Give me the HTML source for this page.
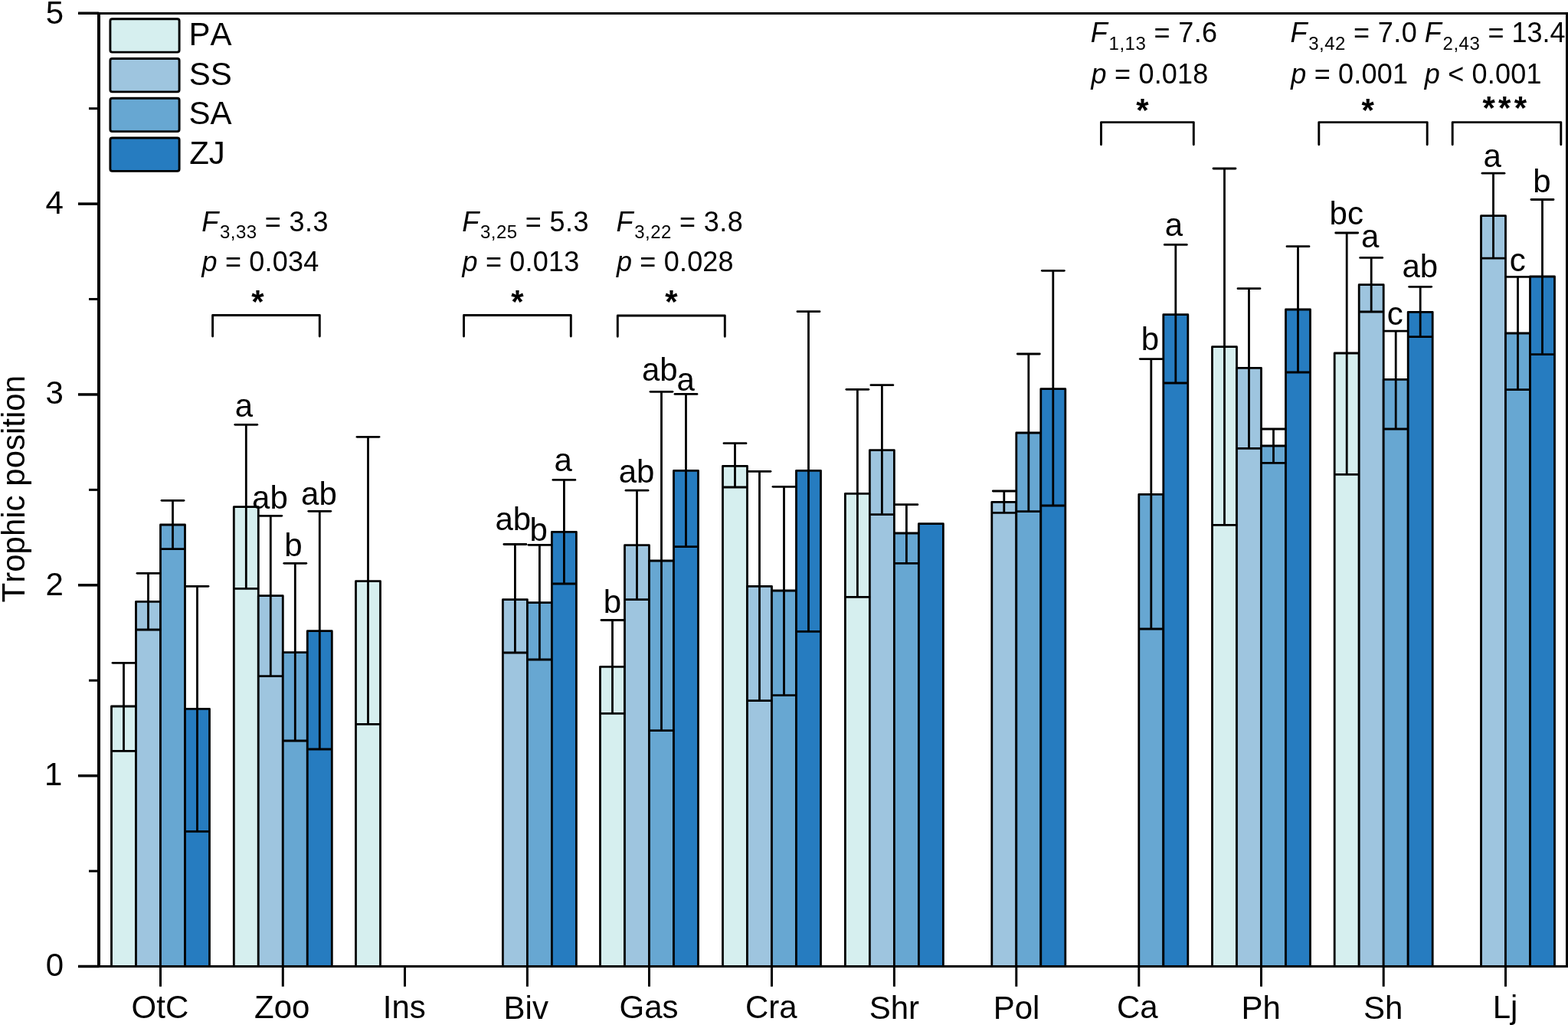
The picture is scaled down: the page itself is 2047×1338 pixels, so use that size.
<!DOCTYPE html>
<html><head><meta charset="utf-8"><title>Trophic position</title>
<style>
html,body{margin:0;padding:0;background:#fff;}
body{width:2047px;height:1338px;overflow:hidden;}
svg{display:block;font-family:"Liberation Sans", Arial, sans-serif;}
text{fill:#000;font-kerning:none;}
</style></head><body>
<svg width="2047" height="1338" viewBox="0 0 2047 1338">
<rect x="0" y="0" width="2047" height="1338" fill="#fff"/>
<rect x="145.50" y="922.00" width="32.00" height="339.50" fill="#d6efef" stroke="#000" stroke-width="2.8" stroke-linejoin="round"/>
<rect x="177.50" y="785.30" width="32.00" height="476.20" fill="#9ec5df" stroke="#000" stroke-width="2.8" stroke-linejoin="round"/>
<rect x="209.50" y="685.00" width="32.00" height="576.50" fill="#67a7d2" stroke="#000" stroke-width="2.8" stroke-linejoin="round"/>
<rect x="241.50" y="925.30" width="32.00" height="336.20" fill="#267cc0" stroke="#000" stroke-width="2.8" stroke-linejoin="round"/>
<rect x="305.30" y="661.70" width="32.00" height="599.80" fill="#d6efef" stroke="#000" stroke-width="2.8" stroke-linejoin="round"/>
<rect x="337.30" y="777.70" width="32.00" height="483.80" fill="#9ec5df" stroke="#000" stroke-width="2.8" stroke-linejoin="round"/>
<rect x="369.30" y="851.70" width="32.00" height="409.80" fill="#67a7d2" stroke="#000" stroke-width="2.8" stroke-linejoin="round"/>
<rect x="401.30" y="823.70" width="32.00" height="437.80" fill="#267cc0" stroke="#000" stroke-width="2.8" stroke-linejoin="round"/>
<rect x="464.50" y="758.70" width="32.00" height="502.80" fill="#d6efef" stroke="#000" stroke-width="2.8" stroke-linejoin="round"/>
<rect x="656.40" y="782.70" width="32.00" height="478.80" fill="#9ec5df" stroke="#000" stroke-width="2.8" stroke-linejoin="round"/>
<rect x="688.40" y="786.70" width="32.00" height="474.80" fill="#67a7d2" stroke="#000" stroke-width="2.8" stroke-linejoin="round"/>
<rect x="720.40" y="694.30" width="32.00" height="567.20" fill="#267cc0" stroke="#000" stroke-width="2.8" stroke-linejoin="round"/>
<rect x="783.50" y="870.30" width="32.00" height="391.20" fill="#d6efef" stroke="#000" stroke-width="2.8" stroke-linejoin="round"/>
<rect x="815.50" y="711.70" width="32.00" height="549.80" fill="#9ec5df" stroke="#000" stroke-width="2.8" stroke-linejoin="round"/>
<rect x="847.50" y="732.00" width="32.00" height="529.50" fill="#67a7d2" stroke="#000" stroke-width="2.8" stroke-linejoin="round"/>
<rect x="879.50" y="614.30" width="32.00" height="647.20" fill="#267cc0" stroke="#000" stroke-width="2.8" stroke-linejoin="round"/>
<rect x="943.50" y="608.30" width="32.00" height="653.20" fill="#d6efef" stroke="#000" stroke-width="2.8" stroke-linejoin="round"/>
<rect x="975.50" y="765.30" width="32.00" height="496.20" fill="#9ec5df" stroke="#000" stroke-width="2.8" stroke-linejoin="round"/>
<rect x="1007.50" y="771.00" width="32.00" height="490.50" fill="#67a7d2" stroke="#000" stroke-width="2.8" stroke-linejoin="round"/>
<rect x="1039.50" y="614.30" width="32.00" height="647.20" fill="#267cc0" stroke="#000" stroke-width="2.8" stroke-linejoin="round"/>
<rect x="1103.40" y="644.30" width="32.00" height="617.20" fill="#d6efef" stroke="#000" stroke-width="2.8" stroke-linejoin="round"/>
<rect x="1135.40" y="587.70" width="32.00" height="673.80" fill="#9ec5df" stroke="#000" stroke-width="2.8" stroke-linejoin="round"/>
<rect x="1167.40" y="696.00" width="32.00" height="565.50" fill="#67a7d2" stroke="#000" stroke-width="2.8" stroke-linejoin="round"/>
<rect x="1199.40" y="683.70" width="32.00" height="577.80" fill="#267cc0" stroke="#000" stroke-width="2.8" stroke-linejoin="round"/>
<rect x="1294.80" y="655.30" width="32.00" height="606.20" fill="#9ec5df" stroke="#000" stroke-width="2.8" stroke-linejoin="round"/>
<rect x="1326.80" y="565.00" width="32.00" height="696.50" fill="#67a7d2" stroke="#000" stroke-width="2.8" stroke-linejoin="round"/>
<rect x="1358.80" y="507.70" width="32.00" height="753.80" fill="#267cc0" stroke="#000" stroke-width="2.8" stroke-linejoin="round"/>
<rect x="1486.80" y="645.30" width="32.00" height="616.20" fill="#67a7d2" stroke="#000" stroke-width="2.8" stroke-linejoin="round"/>
<rect x="1518.80" y="410.70" width="32.00" height="850.80" fill="#267cc0" stroke="#000" stroke-width="2.8" stroke-linejoin="round"/>
<rect x="1582.50" y="452.70" width="32.00" height="808.80" fill="#d6efef" stroke="#000" stroke-width="2.8" stroke-linejoin="round"/>
<rect x="1614.50" y="480.30" width="32.00" height="781.20" fill="#9ec5df" stroke="#000" stroke-width="2.8" stroke-linejoin="round"/>
<rect x="1646.50" y="582.00" width="32.00" height="679.50" fill="#67a7d2" stroke="#000" stroke-width="2.8" stroke-linejoin="round"/>
<rect x="1678.50" y="404.00" width="32.00" height="857.50" fill="#267cc0" stroke="#000" stroke-width="2.8" stroke-linejoin="round"/>
<rect x="1742.20" y="461.00" width="32.00" height="800.50" fill="#d6efef" stroke="#000" stroke-width="2.8" stroke-linejoin="round"/>
<rect x="1774.20" y="371.70" width="32.00" height="889.80" fill="#9ec5df" stroke="#000" stroke-width="2.8" stroke-linejoin="round"/>
<rect x="1806.20" y="495.30" width="32.00" height="766.20" fill="#67a7d2" stroke="#000" stroke-width="2.8" stroke-linejoin="round"/>
<rect x="1838.20" y="407.30" width="32.00" height="854.20" fill="#267cc0" stroke="#000" stroke-width="2.8" stroke-linejoin="round"/>
<rect x="1933.50" y="281.70" width="32.00" height="979.80" fill="#9ec5df" stroke="#000" stroke-width="2.8" stroke-linejoin="round"/>
<rect x="1965.50" y="435.00" width="32.00" height="826.50" fill="#67a7d2" stroke="#000" stroke-width="2.8" stroke-linejoin="round"/>
<rect x="1997.50" y="361.00" width="32.00" height="900.50" fill="#267cc0" stroke="#000" stroke-width="2.8" stroke-linejoin="round"/>
<line x1="161.50" y1="865.30" x2="161.50" y2="980.30" stroke="#000" stroke-width="2.8"/>
<line x1="147.00" y1="865.30" x2="176.00" y2="865.30" stroke="#000" stroke-width="2.8" stroke-linecap="round"/>
<line x1="147.00" y1="980.30" x2="176.00" y2="980.30" stroke="#000" stroke-width="2.8" stroke-linecap="round"/>
<line x1="193.50" y1="748.30" x2="193.50" y2="822.00" stroke="#000" stroke-width="2.8"/>
<line x1="179.00" y1="748.30" x2="208.00" y2="748.30" stroke="#000" stroke-width="2.8" stroke-linecap="round"/>
<line x1="179.00" y1="822.00" x2="208.00" y2="822.00" stroke="#000" stroke-width="2.8" stroke-linecap="round"/>
<line x1="225.50" y1="653.30" x2="225.50" y2="716.70" stroke="#000" stroke-width="2.8"/>
<line x1="211.00" y1="653.30" x2="240.00" y2="653.30" stroke="#000" stroke-width="2.8" stroke-linecap="round"/>
<line x1="211.00" y1="716.70" x2="240.00" y2="716.70" stroke="#000" stroke-width="2.8" stroke-linecap="round"/>
<line x1="257.50" y1="765.30" x2="257.50" y2="1085.30" stroke="#000" stroke-width="2.8"/>
<line x1="243.00" y1="765.30" x2="272.00" y2="765.30" stroke="#000" stroke-width="2.8" stroke-linecap="round"/>
<line x1="243.00" y1="1085.30" x2="272.00" y2="1085.30" stroke="#000" stroke-width="2.8" stroke-linecap="round"/>
<line x1="321.30" y1="554.30" x2="321.30" y2="768.30" stroke="#000" stroke-width="2.8"/>
<line x1="306.80" y1="554.30" x2="335.80" y2="554.30" stroke="#000" stroke-width="2.8" stroke-linecap="round"/>
<line x1="306.80" y1="768.30" x2="335.80" y2="768.30" stroke="#000" stroke-width="2.8" stroke-linecap="round"/>
<line x1="353.30" y1="673.30" x2="353.30" y2="882.70" stroke="#000" stroke-width="2.8"/>
<line x1="338.80" y1="673.30" x2="367.80" y2="673.30" stroke="#000" stroke-width="2.8" stroke-linecap="round"/>
<line x1="338.80" y1="882.70" x2="367.80" y2="882.70" stroke="#000" stroke-width="2.8" stroke-linecap="round"/>
<line x1="385.30" y1="735.30" x2="385.30" y2="967.00" stroke="#000" stroke-width="2.8"/>
<line x1="370.80" y1="735.30" x2="399.80" y2="735.30" stroke="#000" stroke-width="2.8" stroke-linecap="round"/>
<line x1="370.80" y1="967.00" x2="399.80" y2="967.00" stroke="#000" stroke-width="2.8" stroke-linecap="round"/>
<line x1="417.30" y1="667.30" x2="417.30" y2="978.00" stroke="#000" stroke-width="2.8"/>
<line x1="402.80" y1="667.30" x2="431.80" y2="667.30" stroke="#000" stroke-width="2.8" stroke-linecap="round"/>
<line x1="402.80" y1="978.00" x2="431.80" y2="978.00" stroke="#000" stroke-width="2.8" stroke-linecap="round"/>
<line x1="480.50" y1="570.30" x2="480.50" y2="945.30" stroke="#000" stroke-width="2.8"/>
<line x1="466.00" y1="570.30" x2="495.00" y2="570.30" stroke="#000" stroke-width="2.8" stroke-linecap="round"/>
<line x1="466.00" y1="945.30" x2="495.00" y2="945.30" stroke="#000" stroke-width="2.8" stroke-linecap="round"/>
<line x1="672.40" y1="710.50" x2="672.40" y2="852.00" stroke="#000" stroke-width="2.8"/>
<line x1="657.90" y1="710.50" x2="686.90" y2="710.50" stroke="#000" stroke-width="2.8" stroke-linecap="round"/>
<line x1="657.90" y1="852.00" x2="686.90" y2="852.00" stroke="#000" stroke-width="2.8" stroke-linecap="round"/>
<line x1="704.40" y1="711.30" x2="704.40" y2="861.00" stroke="#000" stroke-width="2.8"/>
<line x1="689.90" y1="711.30" x2="718.90" y2="711.30" stroke="#000" stroke-width="2.8" stroke-linecap="round"/>
<line x1="689.90" y1="861.00" x2="718.90" y2="861.00" stroke="#000" stroke-width="2.8" stroke-linecap="round"/>
<line x1="736.40" y1="626.40" x2="736.40" y2="762.00" stroke="#000" stroke-width="2.8"/>
<line x1="721.90" y1="626.40" x2="750.90" y2="626.40" stroke="#000" stroke-width="2.8" stroke-linecap="round"/>
<line x1="721.90" y1="762.00" x2="750.90" y2="762.00" stroke="#000" stroke-width="2.8" stroke-linecap="round"/>
<line x1="799.50" y1="809.50" x2="799.50" y2="931.30" stroke="#000" stroke-width="2.8"/>
<line x1="785.00" y1="809.50" x2="814.00" y2="809.50" stroke="#000" stroke-width="2.8" stroke-linecap="round"/>
<line x1="785.00" y1="931.30" x2="814.00" y2="931.30" stroke="#000" stroke-width="2.8" stroke-linecap="round"/>
<line x1="831.50" y1="640.20" x2="831.50" y2="782.60" stroke="#000" stroke-width="2.8"/>
<line x1="817.00" y1="640.20" x2="846.00" y2="640.20" stroke="#000" stroke-width="2.8" stroke-linecap="round"/>
<line x1="817.00" y1="782.60" x2="846.00" y2="782.60" stroke="#000" stroke-width="2.8" stroke-linecap="round"/>
<line x1="863.50" y1="511.30" x2="863.50" y2="953.70" stroke="#000" stroke-width="2.8"/>
<line x1="849.00" y1="511.30" x2="878.00" y2="511.30" stroke="#000" stroke-width="2.8" stroke-linecap="round"/>
<line x1="849.00" y1="953.70" x2="878.00" y2="953.70" stroke="#000" stroke-width="2.8" stroke-linecap="round"/>
<line x1="895.50" y1="514.40" x2="895.50" y2="713.70" stroke="#000" stroke-width="2.8"/>
<line x1="881.00" y1="514.40" x2="910.00" y2="514.40" stroke="#000" stroke-width="2.8" stroke-linecap="round"/>
<line x1="881.00" y1="713.70" x2="910.00" y2="713.70" stroke="#000" stroke-width="2.8" stroke-linecap="round"/>
<line x1="959.50" y1="578.70" x2="959.50" y2="636.00" stroke="#000" stroke-width="2.8"/>
<line x1="945.00" y1="578.70" x2="974.00" y2="578.70" stroke="#000" stroke-width="2.8" stroke-linecap="round"/>
<line x1="945.00" y1="636.00" x2="974.00" y2="636.00" stroke="#000" stroke-width="2.8" stroke-linecap="round"/>
<line x1="991.50" y1="615.30" x2="991.50" y2="914.70" stroke="#000" stroke-width="2.8"/>
<line x1="977.00" y1="615.30" x2="1006.00" y2="615.30" stroke="#000" stroke-width="2.8" stroke-linecap="round"/>
<line x1="977.00" y1="914.70" x2="1006.00" y2="914.70" stroke="#000" stroke-width="2.8" stroke-linecap="round"/>
<line x1="1023.50" y1="635.30" x2="1023.50" y2="907.70" stroke="#000" stroke-width="2.8"/>
<line x1="1009.00" y1="635.30" x2="1038.00" y2="635.30" stroke="#000" stroke-width="2.8" stroke-linecap="round"/>
<line x1="1009.00" y1="907.70" x2="1038.00" y2="907.70" stroke="#000" stroke-width="2.8" stroke-linecap="round"/>
<line x1="1055.50" y1="406.70" x2="1055.50" y2="824.30" stroke="#000" stroke-width="2.8"/>
<line x1="1041.00" y1="406.70" x2="1070.00" y2="406.70" stroke="#000" stroke-width="2.8" stroke-linecap="round"/>
<line x1="1041.00" y1="824.30" x2="1070.00" y2="824.30" stroke="#000" stroke-width="2.8" stroke-linecap="round"/>
<line x1="1119.40" y1="508.30" x2="1119.40" y2="779.30" stroke="#000" stroke-width="2.8"/>
<line x1="1104.90" y1="508.30" x2="1133.90" y2="508.30" stroke="#000" stroke-width="2.8" stroke-linecap="round"/>
<line x1="1104.90" y1="779.30" x2="1133.90" y2="779.30" stroke="#000" stroke-width="2.8" stroke-linecap="round"/>
<line x1="1151.40" y1="502.70" x2="1151.40" y2="671.70" stroke="#000" stroke-width="2.8"/>
<line x1="1136.90" y1="502.70" x2="1165.90" y2="502.70" stroke="#000" stroke-width="2.8" stroke-linecap="round"/>
<line x1="1136.90" y1="671.70" x2="1165.90" y2="671.70" stroke="#000" stroke-width="2.8" stroke-linecap="round"/>
<line x1="1183.40" y1="658.70" x2="1183.40" y2="735.30" stroke="#000" stroke-width="2.8"/>
<line x1="1168.90" y1="658.70" x2="1197.90" y2="658.70" stroke="#000" stroke-width="2.8" stroke-linecap="round"/>
<line x1="1168.90" y1="735.30" x2="1197.90" y2="735.30" stroke="#000" stroke-width="2.8" stroke-linecap="round"/>
<line x1="1310.80" y1="641.00" x2="1310.80" y2="669.30" stroke="#000" stroke-width="2.8"/>
<line x1="1296.30" y1="641.00" x2="1325.30" y2="641.00" stroke="#000" stroke-width="2.8" stroke-linecap="round"/>
<line x1="1296.30" y1="669.30" x2="1325.30" y2="669.30" stroke="#000" stroke-width="2.8" stroke-linecap="round"/>
<line x1="1342.80" y1="462.00" x2="1342.80" y2="667.70" stroke="#000" stroke-width="2.8"/>
<line x1="1328.30" y1="462.00" x2="1357.30" y2="462.00" stroke="#000" stroke-width="2.8" stroke-linecap="round"/>
<line x1="1328.30" y1="667.70" x2="1357.30" y2="667.70" stroke="#000" stroke-width="2.8" stroke-linecap="round"/>
<line x1="1374.80" y1="353.30" x2="1374.80" y2="660.00" stroke="#000" stroke-width="2.8"/>
<line x1="1360.30" y1="353.30" x2="1389.30" y2="353.30" stroke="#000" stroke-width="2.8" stroke-linecap="round"/>
<line x1="1360.30" y1="660.00" x2="1389.30" y2="660.00" stroke="#000" stroke-width="2.8" stroke-linecap="round"/>
<line x1="1502.80" y1="468.60" x2="1502.80" y2="821.00" stroke="#000" stroke-width="2.8"/>
<line x1="1488.30" y1="468.60" x2="1517.30" y2="468.60" stroke="#000" stroke-width="2.8" stroke-linecap="round"/>
<line x1="1488.30" y1="821.00" x2="1517.30" y2="821.00" stroke="#000" stroke-width="2.8" stroke-linecap="round"/>
<line x1="1534.80" y1="319.40" x2="1534.80" y2="500.00" stroke="#000" stroke-width="2.8"/>
<line x1="1520.30" y1="319.40" x2="1549.30" y2="319.40" stroke="#000" stroke-width="2.8" stroke-linecap="round"/>
<line x1="1520.30" y1="500.00" x2="1549.30" y2="500.00" stroke="#000" stroke-width="2.8" stroke-linecap="round"/>
<line x1="1598.50" y1="220.00" x2="1598.50" y2="685.30" stroke="#000" stroke-width="2.8"/>
<line x1="1584.00" y1="220.00" x2="1613.00" y2="220.00" stroke="#000" stroke-width="2.8" stroke-linecap="round"/>
<line x1="1584.00" y1="685.30" x2="1613.00" y2="685.30" stroke="#000" stroke-width="2.8" stroke-linecap="round"/>
<line x1="1630.50" y1="376.70" x2="1630.50" y2="585.30" stroke="#000" stroke-width="2.8"/>
<line x1="1616.00" y1="376.70" x2="1645.00" y2="376.70" stroke="#000" stroke-width="2.8" stroke-linecap="round"/>
<line x1="1616.00" y1="585.30" x2="1645.00" y2="585.30" stroke="#000" stroke-width="2.8" stroke-linecap="round"/>
<line x1="1662.50" y1="560.00" x2="1662.50" y2="604.30" stroke="#000" stroke-width="2.8"/>
<line x1="1648.00" y1="560.00" x2="1677.00" y2="560.00" stroke="#000" stroke-width="2.8" stroke-linecap="round"/>
<line x1="1648.00" y1="604.30" x2="1677.00" y2="604.30" stroke="#000" stroke-width="2.8" stroke-linecap="round"/>
<line x1="1694.50" y1="321.70" x2="1694.50" y2="486.00" stroke="#000" stroke-width="2.8"/>
<line x1="1680.00" y1="321.70" x2="1709.00" y2="321.70" stroke="#000" stroke-width="2.8" stroke-linecap="round"/>
<line x1="1680.00" y1="486.00" x2="1709.00" y2="486.00" stroke="#000" stroke-width="2.8" stroke-linecap="round"/>
<line x1="1758.20" y1="304.00" x2="1758.20" y2="619.30" stroke="#000" stroke-width="2.8"/>
<line x1="1743.70" y1="304.00" x2="1772.70" y2="304.00" stroke="#000" stroke-width="2.8" stroke-linecap="round"/>
<line x1="1743.70" y1="619.30" x2="1772.70" y2="619.30" stroke="#000" stroke-width="2.8" stroke-linecap="round"/>
<line x1="1790.20" y1="336.40" x2="1790.20" y2="407.00" stroke="#000" stroke-width="2.8"/>
<line x1="1775.70" y1="336.40" x2="1804.70" y2="336.40" stroke="#000" stroke-width="2.8" stroke-linecap="round"/>
<line x1="1775.70" y1="407.00" x2="1804.70" y2="407.00" stroke="#000" stroke-width="2.8" stroke-linecap="round"/>
<line x1="1822.20" y1="432.20" x2="1822.20" y2="560.00" stroke="#000" stroke-width="2.8"/>
<line x1="1807.70" y1="432.20" x2="1836.70" y2="432.20" stroke="#000" stroke-width="2.8" stroke-linecap="round"/>
<line x1="1807.70" y1="560.00" x2="1836.70" y2="560.00" stroke="#000" stroke-width="2.8" stroke-linecap="round"/>
<line x1="1854.20" y1="374.30" x2="1854.20" y2="439.60" stroke="#000" stroke-width="2.8"/>
<line x1="1839.70" y1="374.30" x2="1868.70" y2="374.30" stroke="#000" stroke-width="2.8" stroke-linecap="round"/>
<line x1="1839.70" y1="439.60" x2="1868.70" y2="439.60" stroke="#000" stroke-width="2.8" stroke-linecap="round"/>
<line x1="1949.50" y1="226.20" x2="1949.50" y2="337.20" stroke="#000" stroke-width="2.8"/>
<line x1="1935.00" y1="226.20" x2="1964.00" y2="226.20" stroke="#000" stroke-width="2.8" stroke-linecap="round"/>
<line x1="1935.00" y1="337.20" x2="1964.00" y2="337.20" stroke="#000" stroke-width="2.8" stroke-linecap="round"/>
<line x1="1981.50" y1="361.40" x2="1981.50" y2="508.70" stroke="#000" stroke-width="2.8"/>
<line x1="1967.00" y1="361.40" x2="1996.00" y2="361.40" stroke="#000" stroke-width="2.8" stroke-linecap="round"/>
<line x1="1967.00" y1="508.70" x2="1996.00" y2="508.70" stroke="#000" stroke-width="2.8" stroke-linecap="round"/>
<line x1="2013.50" y1="260.50" x2="2013.50" y2="462.70" stroke="#000" stroke-width="2.8"/>
<line x1="1999.00" y1="260.50" x2="2028.00" y2="260.50" stroke="#000" stroke-width="2.8" stroke-linecap="round"/>
<line x1="1999.00" y1="462.70" x2="2028.00" y2="462.70" stroke="#000" stroke-width="2.8" stroke-linecap="round"/>
<line x1="129" y1="15.9" x2="129" y2="1263" stroke="#000" stroke-width="4"/>
<line x1="102" y1="1261.5" x2="2047" y2="1261.5" stroke="#000" stroke-width="3"/>
<line x1="102" y1="17.4" x2="2047" y2="17.4" stroke="#000" stroke-width="3"/>
<line x1="2045.5" y1="15.9" x2="2045.5" y2="1263" stroke="#000" stroke-width="3"/>
<line x1="102" y1="1261.50" x2="129" y2="1261.50" stroke="#000" stroke-width="3.5"/>
<text x="83.20" y="1273.60" text-anchor="end" font-size="42">0</text>
<line x1="102" y1="1012.65" x2="129" y2="1012.65" stroke="#000" stroke-width="3.5"/>
<text x="81.30" y="1025.30" text-anchor="end" font-size="42">1</text>
<line x1="102" y1="763.80" x2="129" y2="763.80" stroke="#000" stroke-width="3.5"/>
<text x="82.85" y="776.95" text-anchor="end" font-size="42">2</text>
<line x1="102" y1="514.95" x2="129" y2="514.95" stroke="#000" stroke-width="3.5"/>
<text x="82.85" y="527.10" text-anchor="end" font-size="42">3</text>
<line x1="102" y1="266.10" x2="129" y2="266.10" stroke="#000" stroke-width="3.5"/>
<text x="82.80" y="278.50" text-anchor="end" font-size="42">4</text>
<line x1="102" y1="17.25" x2="129" y2="17.25" stroke="#000" stroke-width="3.5"/>
<text x="83.00" y="30.75" text-anchor="end" font-size="42">5</text>
<line x1="116" y1="1137.08" x2="129" y2="1137.08" stroke="#000" stroke-width="3"/>
<line x1="116" y1="888.23" x2="129" y2="888.23" stroke="#000" stroke-width="3"/>
<line x1="116" y1="639.38" x2="129" y2="639.38" stroke="#000" stroke-width="3"/>
<line x1="116" y1="390.52" x2="129" y2="390.52" stroke="#000" stroke-width="3"/>
<line x1="116" y1="141.67" x2="129" y2="141.67" stroke="#000" stroke-width="3"/>
<line x1="209.50" y1="1261.5" x2="209.50" y2="1287.8" stroke="#000" stroke-width="3"/>
<text x="208.90" y="1328.50" text-anchor="middle" font-size="42">OtC</text>
<line x1="369.30" y1="1261.5" x2="369.30" y2="1287.8" stroke="#000" stroke-width="3"/>
<text x="368.20" y="1328.50" text-anchor="middle" font-size="42">Zoo</text>
<line x1="528.50" y1="1261.5" x2="528.50" y2="1287.8" stroke="#000" stroke-width="3"/>
<text x="527.75" y="1328.60" text-anchor="middle" font-size="42">Ins</text>
<line x1="688.40" y1="1261.5" x2="688.40" y2="1287.8" stroke="#000" stroke-width="3"/>
<text x="686.75" y="1329.60" text-anchor="middle" font-size="42">Biv</text>
<line x1="847.50" y1="1261.5" x2="847.50" y2="1287.8" stroke="#000" stroke-width="3"/>
<text x="847.00" y="1328.60" text-anchor="middle" font-size="42">Gas</text>
<line x1="1007.50" y1="1261.5" x2="1007.50" y2="1287.8" stroke="#000" stroke-width="3"/>
<text x="1006.75" y="1328.60" text-anchor="middle" font-size="42">Cra</text>
<line x1="1167.40" y1="1261.5" x2="1167.40" y2="1287.8" stroke="#000" stroke-width="3"/>
<text x="1167.35" y="1329.60" text-anchor="middle" font-size="42">Shr</text>
<line x1="1326.80" y1="1261.5" x2="1326.80" y2="1287.8" stroke="#000" stroke-width="3"/>
<text x="1327.00" y="1329.60" text-anchor="middle" font-size="42">Pol</text>
<line x1="1486.80" y1="1261.5" x2="1486.80" y2="1287.8" stroke="#000" stroke-width="3"/>
<text x="1484.85" y="1328.60" text-anchor="middle" font-size="42">Ca</text>
<line x1="1646.50" y1="1261.5" x2="1646.50" y2="1287.8" stroke="#000" stroke-width="3"/>
<text x="1646.10" y="1329.60" text-anchor="middle" font-size="42">Ph</text>
<line x1="1806.20" y1="1261.5" x2="1806.20" y2="1287.8" stroke="#000" stroke-width="3"/>
<text x="1805.65" y="1329.60" text-anchor="middle" font-size="42">Sh</text>
<line x1="1965.50" y1="1261.5" x2="1965.50" y2="1287.8" stroke="#000" stroke-width="3"/>
<text x="1965.10" y="1329.35" text-anchor="middle" font-size="42">Lj</text>
<text transform="translate(32.00,638.20) rotate(-90)" text-anchor="middle" font-size="42">Trophic position</text>
<rect x="143.9" y="24.70" width="90.2" height="43.4" rx="2.5" fill="#d6efef" stroke="#000" stroke-width="2.9"/>
<text x="246.60" y="59.10" font-size="42">PA</text>
<rect x="143.9" y="76.45" width="90.2" height="43.4" rx="2.5" fill="#9ec5df" stroke="#000" stroke-width="2.9"/>
<text x="246.75" y="110.90" font-size="42">SS</text>
<rect x="143.9" y="128.20" width="90.2" height="43.4" rx="2.5" fill="#67a7d2" stroke="#000" stroke-width="2.9"/>
<text x="246.60" y="162.15" font-size="42">SA</text>
<rect x="143.9" y="179.95" width="90.2" height="43.4" rx="2.5" fill="#267cc0" stroke="#000" stroke-width="2.9"/>
<text x="247.15" y="214.35" font-size="42">ZJ</text>
<text x="318.45" y="544.10" text-anchor="middle" font-size="42">a</text>
<text x="352.45" y="664.30" text-anchor="middle" font-size="42">ab</text>
<text x="383.00" y="726.10" text-anchor="middle" font-size="42">b</text>
<text x="416.45" y="658.55" text-anchor="middle" font-size="42">ab</text>
<text x="669.85" y="691.90" text-anchor="middle" font-size="42">ab</text>
<text x="703.25" y="705.85" text-anchor="middle" font-size="42">b</text>
<text x="735.20" y="615.45" text-anchor="middle" font-size="42">a</text>
<text x="799.55" y="799.95" text-anchor="middle" font-size="42">b</text>
<text x="831.00" y="629.90" text-anchor="middle" font-size="42">ab</text>
<text x="861.30" y="496.85" text-anchor="middle" font-size="42">ab</text>
<text x="895.10" y="510.15" text-anchor="middle" font-size="42">a</text>
<text x="1501.55" y="456.60" text-anchor="middle" font-size="42">b</text>
<text x="1532.40" y="308.40" text-anchor="middle" font-size="42">a</text>
<text x="1757.80" y="292.60" text-anchor="middle" font-size="42">bc</text>
<text x="1788.60" y="323.05" text-anchor="middle" font-size="42">a</text>
<text x="1821.20" y="423.65" text-anchor="middle" font-size="42">c</text>
<text x="1853.80" y="362.10" text-anchor="middle" font-size="42">ab</text>
<text x="1948.10" y="218.20" text-anchor="middle" font-size="42">a</text>
<text x="1981.25" y="353.80" text-anchor="middle" font-size="42">c</text>
<text x="2012.95" y="251.45" text-anchor="middle" font-size="42">b</text>
<text font-size="36"><tspan x="263.20" y="301.70" font-style="italic">F</tspan><tspan x="287.00" y="311.40" font-size="24" letter-spacing="0.5">3,33</tspan><tspan x="345.80" y="301.70" letter-spacing="0.4">= 3.3</tspan></text>
<text font-size="36"><tspan x="263.50" y="354.40" font-style="italic">p</tspan><tspan x="293.90" y="354.40" letter-spacing="0.2">= 0.034</tspan></text>
<text font-size="36"><tspan x="603.20" y="301.70" font-style="italic">F</tspan><tspan x="627.00" y="311.40" font-size="24" letter-spacing="0.5">3,25</tspan><tspan x="685.80" y="301.70" letter-spacing="0.4">= 5.3</tspan></text>
<text font-size="36"><tspan x="603.50" y="354.40" font-style="italic">p</tspan><tspan x="633.90" y="354.40" letter-spacing="0.2">= 0.013</tspan></text>
<text font-size="36"><tspan x="804.40" y="301.70" font-style="italic">F</tspan><tspan x="828.20" y="311.40" font-size="24" letter-spacing="0.5">3,22</tspan><tspan x="887.00" y="301.70" letter-spacing="0.4">= 3.8</tspan></text>
<text font-size="36"><tspan x="804.90" y="354.40" font-style="italic">p</tspan><tspan x="835.30" y="354.40" letter-spacing="0.2">= 0.028</tspan></text>
<text font-size="36"><tspan x="1423.80" y="55.40" font-style="italic">F</tspan><tspan x="1447.60" y="65.10" font-size="24" letter-spacing="0.5">1,13</tspan><tspan x="1506.40" y="55.40" letter-spacing="0.4">= 7.6</tspan></text>
<text font-size="36"><tspan x="1424.60" y="109.30" font-style="italic">p</tspan><tspan x="1455.00" y="109.30" letter-spacing="0.2">= 0.018</tspan></text>
<text font-size="36"><tspan x="1684.40" y="55.40" font-style="italic">F</tspan><tspan x="1708.20" y="65.10" font-size="24" letter-spacing="0.5">3,42</tspan><tspan x="1767.00" y="55.40" letter-spacing="0.4">= 7.0</tspan></text>
<text font-size="36"><tspan x="1685.30" y="109.30" font-style="italic">p</tspan><tspan x="1715.70" y="109.30" letter-spacing="0.2">= 0.001</tspan></text>
<text font-size="36"><tspan x="1859.80" y="55.40" font-style="italic">F</tspan><tspan x="1883.60" y="65.10" font-size="24" letter-spacing="0.5">2,43</tspan><tspan x="1942.40" y="55.40" letter-spacing="0.0">= 13.4</tspan></text>
<text font-size="36"><tspan x="1859.80" y="109.30" font-style="italic">p</tspan><tspan x="1890.20" y="109.30" letter-spacing="0.2">&lt; 0.001</tspan></text>
<path d="M277.60,439.00 L277.60,411.50 L417.30,411.50 L417.30,439.00" fill="none" stroke="#000" stroke-width="2.9" stroke-linejoin="round" stroke-linecap="round"/>
<text x="336.55" y="407.95" text-anchor="middle" font-size="42" font-weight="bold">*</text>
<path d="M605.50,439.00 L605.50,411.50 L745.30,411.50 L745.30,439.00" fill="none" stroke="#000" stroke-width="2.9" stroke-linejoin="round" stroke-linecap="round"/>
<text x="675.40" y="407.95" text-anchor="middle" font-size="42" font-weight="bold">*</text>
<path d="M806.30,439.20 L806.30,412.00 L946.30,412.00 L946.30,439.20" fill="none" stroke="#000" stroke-width="2.9" stroke-linejoin="round" stroke-linecap="round"/>
<text x="876.45" y="407.95" text-anchor="middle" font-size="42" font-weight="bold">*</text>
<path d="M1437.50,188.80 L1437.50,159.60 L1558.30,159.60 L1558.30,188.80" fill="none" stroke="#000" stroke-width="2.9" stroke-linejoin="round" stroke-linecap="round"/>
<text x="1491.45" y="157.70" text-anchor="middle" font-size="42" font-weight="bold">*</text>
<path d="M1721.80,188.80 L1721.80,159.60 L1863.20,159.60 L1863.20,188.80" fill="none" stroke="#000" stroke-width="2.9" stroke-linejoin="round" stroke-linecap="round"/>
<text x="1785.65" y="158.10" text-anchor="middle" font-size="42" font-weight="bold">*</text>
<path d="M1896.20,188.80 L1896.20,159.60 L2037.80,159.60 L2037.80,188.80" fill="none" stroke="#000" stroke-width="2.9" stroke-linejoin="round" stroke-linecap="round"/>
<text x="1966.40" y="155.20" text-anchor="middle" font-size="42" font-weight="bold" letter-spacing="4.3">***</text>
</svg>
</body></html>
